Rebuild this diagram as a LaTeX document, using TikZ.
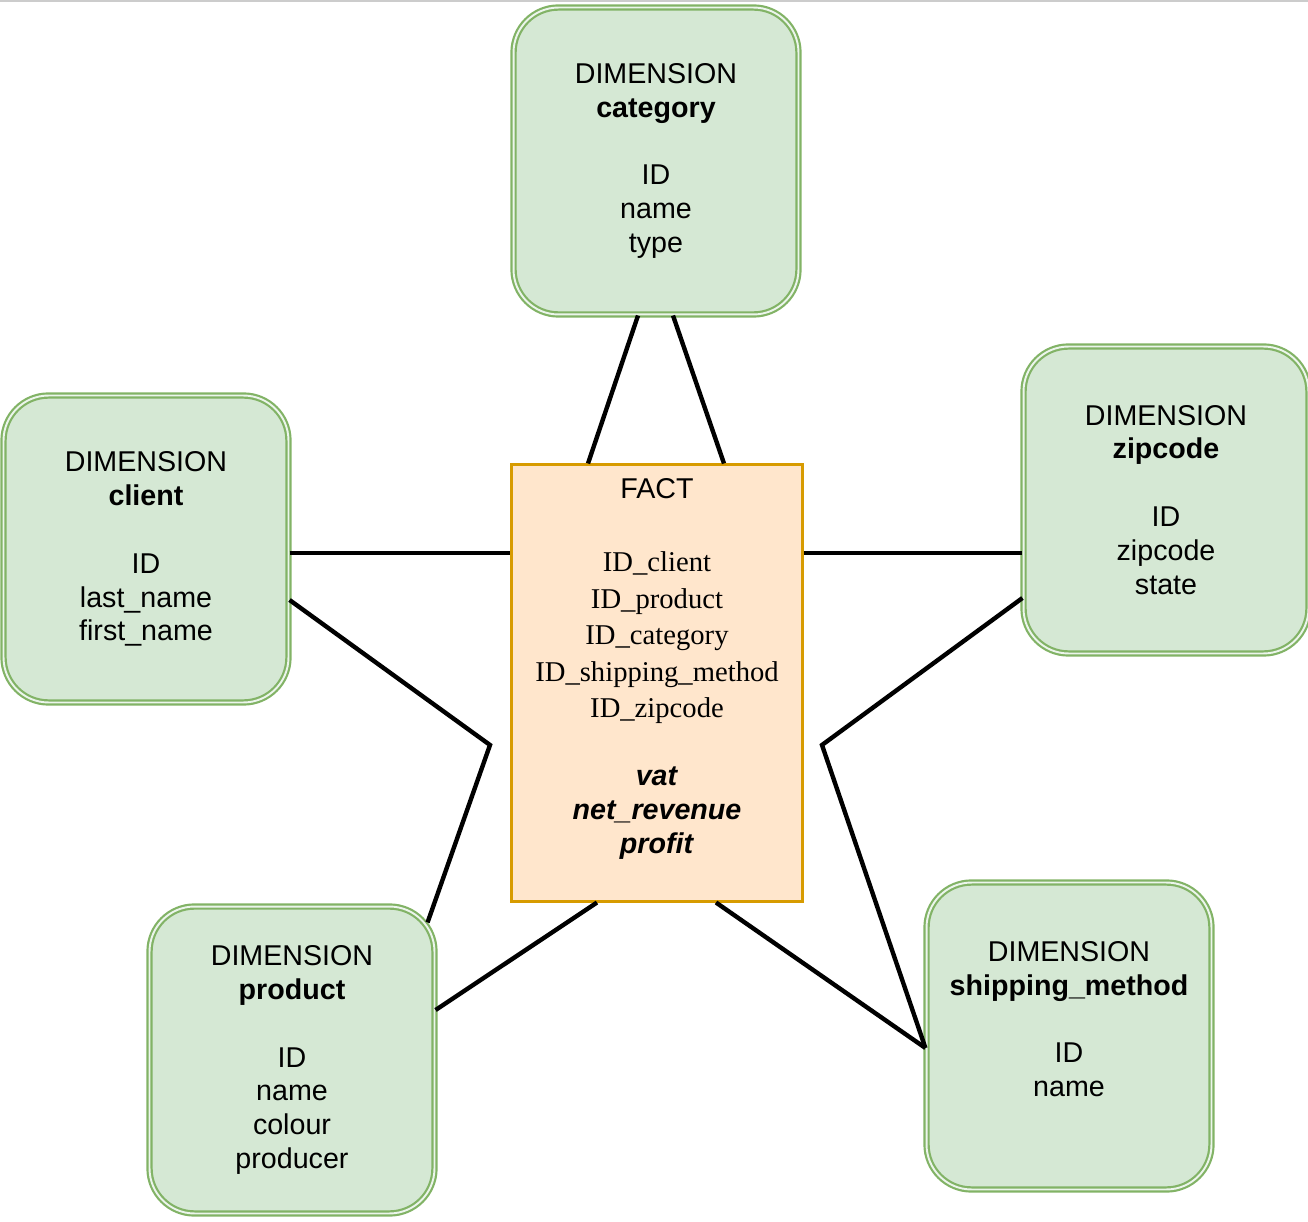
\documentclass[tikz,border=0pt]{standalone}
\usepackage{fontspec}
\setmainfont{Liberation Serif}
\setsansfont{Liberation Sans}
\usetikzlibrary{positioning,calc}

\definecolor{dimfill}{HTML}{D5E8D4}
\definecolor{dimline}{HTML}{82B366}
\definecolor{factfill}{HTML}{FFE6CC}
\definecolor{factline}{HTML}{D79B00}
\newcommand{\boxfont}{\fontsize{16.3}{19.3}\selectfont}

\begin{document}
\begin{tikzpicture}[x=0.02cm,y=-0.02cm,
	dimbox/.style={draw=dimline,fill=dimfill,double=dimfill!45!white,double distance=1.1pt,line width=1.25pt,rounded corners=0.9cm,minimum width=5.7cm,minimum height=6.14cm,align=center,font=\boxfont\sffamily},
	factbox/.style={draw=factline,fill=factfill,line width=1.2pt,minimum width=5.82cm,minimum height=8.74cm,align=center,font=\boxfont\sffamily},
	starline/.style={line width=2.5pt}]

\useasboundingbox (0,0) rectangle (1308,1222);
\clip (0,0) rectangle (1308,1222);
\draw[gray!40,line width=1.5pt](0,1)--(1308,1);

% dimensions
\node[dimbox](category) at (656,161) {DIMENSION\\\textbf{category}\\~\\ID\\name\\type};
\node[dimbox](client) at (146,549) {DIMENSION\\\textbf{client}\\~\\ID\\last\_name\\first\_name};
\node[dimbox](zipcode) at (1166,500) {DIMENSION\\\textbf{zipcode}\\~\\ID\\zipcode\\state};
\node[dimbox](product) at (292,1060) {DIMENSION\\\textbf{product}\\~\\ID\\name\\colour\\producer};
\node[dimbox](shipping) at (1069,1036) {DIMENSION\\\textbf{shipping\_method}\\~\\ID\\name\\~};

% fact
\node[factbox](fact) at (657,683) {FACT\\[1.5pt]~\\[1.5pt]
	{\rmfamily ID\_client}\\[1.5pt]
	{\rmfamily ID\_product}\\[1.5pt]
	{\rmfamily ID\_category}\\[1.5pt]
	{\rmfamily ID\_shipping\_method}\\[1.5pt]
	{\rmfamily ID\_zipcode}\\~\\
	\textbf{\textit{vat}}\\\textbf{\textit{net\_revenue}}\\\textbf{\textit{profit}}\\~};

\coordinate(lowl) at (490,745);
\coordinate(lowr) at (822,745);

\foreach \a/\ax/\ay/\b/\bx/\by in {category.south/-18/0/fact.north/-69/0,category.south/17/0/fact.north/67/0,
	client.east/0/4/fact.west/0/-130,fact.east/0/-130/zipcode.west/0/53,
	product.east/0/-50/fact.south/-60/0,fact.south/59/0/shipping.west/0/12}{
	\draw[starline]($(\a)+(\ax,\ay)$)--($(\b)+(\bx,\by)$);
}
\draw[starline]($(client.east)+(0,51)$)--(lowl)--($(product.north east)+(-8,17)$);
\draw[starline]($(zipcode.west)+(0,98)$)--(lowr)--($(shipping.west)+(0,12)$);
\end{tikzpicture}
\end{document}
